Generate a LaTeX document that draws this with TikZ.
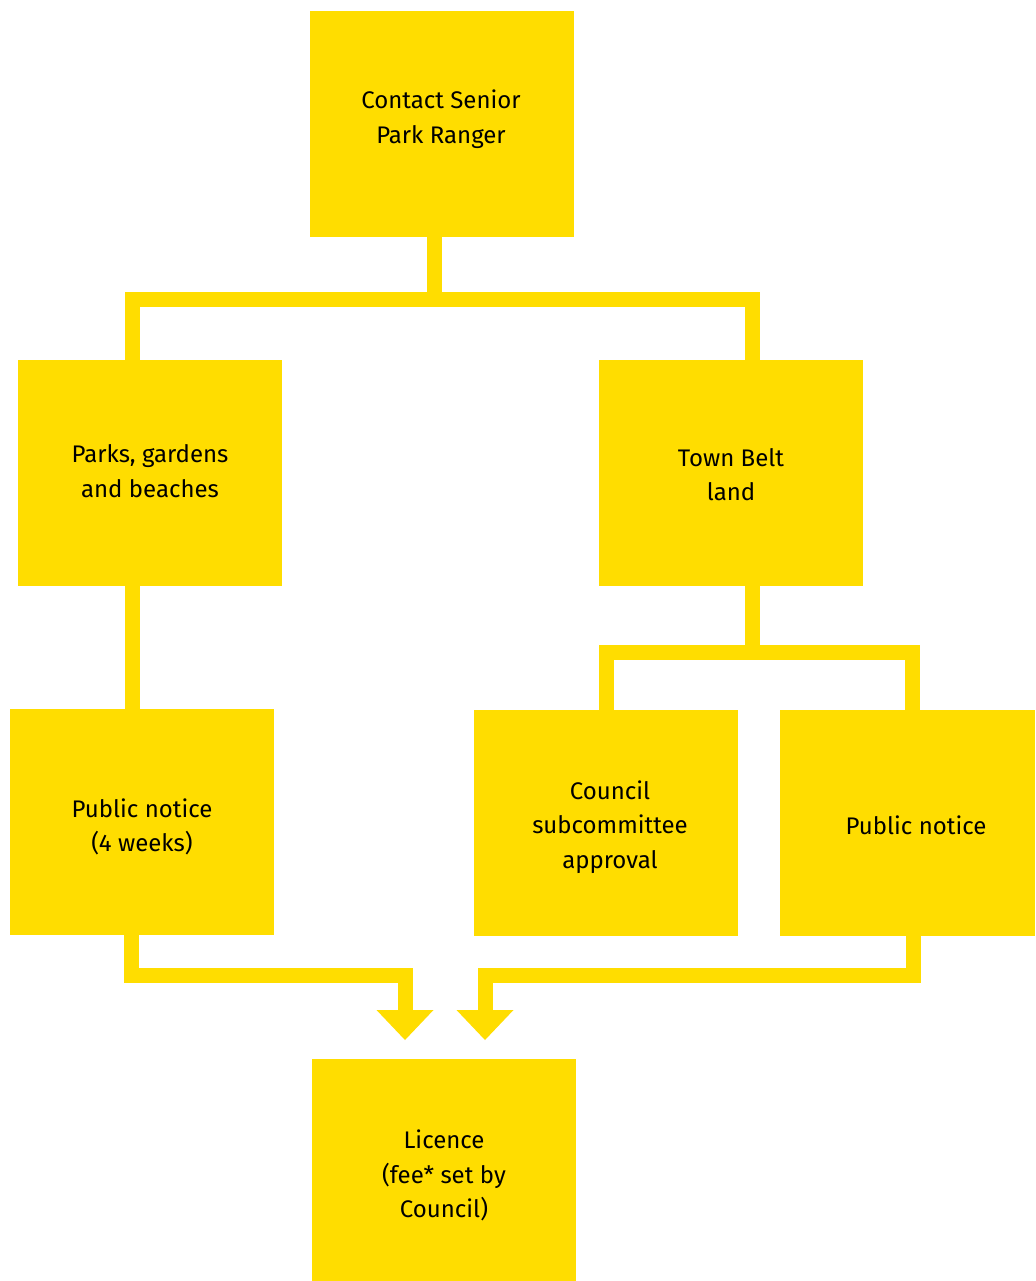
\documentclass[tikz,border=0pt]{standalone}
\usepackage{fontspec}
\setmainfont{Fira Sans}
\usetikzlibrary{arrows.meta}
\definecolor{ylw}{RGB}{255,221,0}
\newcommand{\btxt}[3]{\kern#1\parbox[c][160pt][c]{186pt}{\centering #3\par\vspace{#2}}\kern-#1}
\begin{document}
\begin{tikzpicture}[x=0.75pt,y=-0.75pt,
  box/.style={fill=ylw,draw=none,minimum width=198pt,minimum height=169.5pt,
    inner sep=0pt,font=\fontsize{18}{26}\selectfont,text=black},
  conn/.style={draw=ylw,line width=11.25pt,line join=miter,line cap=butt},
  arr/.style={conn,-{Triangle[width=42.75pt,length=22.5pt,line width=0pt]}}]
\useasboundingbox (0,0) rectangle (1035,1281);
\node[box] (top) at (442,124) {\btxt{-0.75pt}{6.75pt}{Contact Senior\\Park Ranger}};
\node[box] (parks) at (150,473) {\btxt{0pt}{3pt}{Parks, gardens\\and beaches}};
\node[box] (town) at (731,473) {\btxt{0pt}{-2.25pt}{Town Belt\\land}};
\node[box] (pn4) at (142,822) {\btxt{0pt}{-7.5pt}{Public notice\\(4 weeks)}};
\node[box] (council) at (606,823) {\btxt{3pt}{-6pt}{Council\\subcommittee\\approval}};
\node[box,minimum width=191.25pt] (pn) at (907.5,823) {\btxt{6.4pt}{-3pt}{Public notice}};
\node[box,minimum height=166.5pt] (lic) at (444,1170) {\btxt{0pt}{-8.25pt}{Licence\\(fee* set by\\Council)}};
\coordinate (j1) at (434,299.5);
\coordinate (j2) at (752.5,652);
\draw[conn] (top.south -| j1) -- (j1);
\draw[conn] ([xshift=-13.125pt]parks.north) |- (j1) -| ([xshift=16.125pt]town.north);
\draw[conn] (town.south -| j2) -- (j2);
\draw[conn] ([xshift=0.375pt]council.north) |- (j2) -| ([xshift=3.375pt]pn.north);
\draw[conn] ([xshift=-13.5pt]parks.south) -- ([xshift=-7.5pt]pn4.north);
\draw[arr] ([xshift=-8.25pt]pn4.south) |- (405,975) -- (405,1040);
\draw[arr] ([xshift=4.125pt]pn.south) |- (485,975) -- (485,1040);
\end{tikzpicture}
\end{document}
